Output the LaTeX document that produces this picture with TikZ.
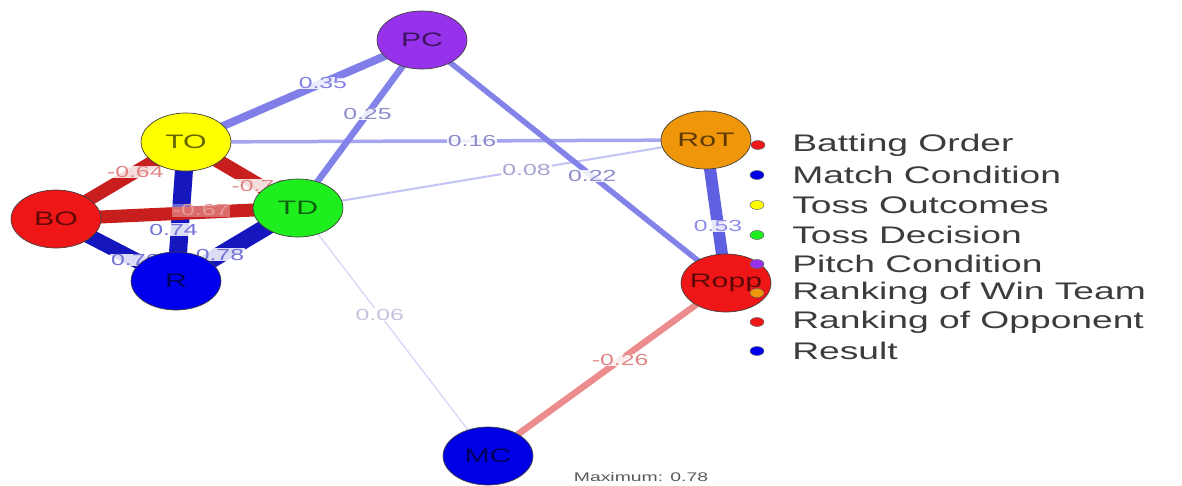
\documentclass[tikz,border=0pt]{standalone}
\usepackage{fontspec}
\setmainfont{Liberation Sans}
\usetikzlibrary{shapes.geometric, positioning, backgrounds}

\definecolor{pcfill}{RGB}{150,50,235}
\definecolor{tofill}{RGB}{255,255,0}
\definecolor{bofill}{RGB}{238,22,22}
\definecolor{tdfill}{RGB}{30,238,30}
\definecolor{rfill}{RGB}{0,0,238}
\definecolor{rotfill}{RGB}{240,150,10}
\definecolor{roppfill}{RGB}{238,22,22}
\definecolor{mcfill}{RGB}{0,0,230}
\definecolor{posstrong}{RGB}{22,22,190}
\definecolor{posmid}{RGB}{95,95,225}
\definecolor{posweak}{RGB}{130,130,232}
\definecolor{poslight}{RGB}{165,165,240}
\definecolor{posfaint}{RGB}{195,195,245}
\definecolor{posghost}{RGB}{218,218,248}
\definecolor{negstrong}{RGB}{200,30,30}
\definecolor{negweak}{RGB}{236,140,140}
\definecolor{legtext}{RGB}{60,60,60}

\tikzset{var/.style={circle, minimum size=58pt, inner sep=0pt, draw=black!75, line width=0.7pt, xscale=1.55, text=black, text opacity=0.6, font=\fontsize{19.5}{21}\selectfont}}
\tikzset{link/.style={line cap=butt}}
\tikzset{wlab/.style={fill=white, fill opacity=0.85, text opacity=1, inner sep=0.6pt, xscale=1.55, font=\fontsize{16}{18}\selectfont}}
\tikzset{legdot/.style={circle, minimum size=9pt, inner sep=0pt, draw=black!60, line width=0.5pt, xscale=1.55}}
\tikzset{legitem/.style={anchor=west, inner sep=0pt, xscale=1.55, text=legtext, font=\fontsize{24}{26}\selectfont}}

\begin{document}
\begin{tikzpicture}[x=1pt, y=-1pt]
\useasboundingbox (0,0) rectangle (1182,485);

% Variables
\node (PC) [var, fill=pcfill] at (422,40) {PC};
\node (TO) [var, fill=tofill] at (186,142) {TO};
\node (BO) [var, fill=bofill] at (56,219) {BO};
\node (TD) [var, fill=tdfill] at (298,208) {TD};
\node (R) [var, fill=rfill] at (176,281) {R};
\node (RoT) [var, fill=rotfill] at (706,140) {RoT};
\node (Ropp) [var, fill=roppfill] at (726,283) {Ropp};
\node (MC) [var, fill=mcfill] at (488,456) {MC};

% Correlation edges
\begin{pgfonlayer}{background}
\draw [link, line width=1.5pt, draw=posghost] (TD.center) -- (MC.center) node[wlab, text=posghost!90!black, pos=0.43] {0.06};
\draw [link, line width=2pt, draw=posfaint] (TD.center) -- (RoT.center) node[wlab, text=posfaint!85!black, pos=0.56] {0.08};
\draw [link, line width=3.5pt, draw=poslight] (TO.center) -- (RoT.center) node[wlab, text=poslight!85!black, pos=0.55] {0.16};
\draw [link, line width=5.5pt, draw=posweak] (PC.center) -- (Ropp.center) node[wlab, text=poslight!85!black, pos=0.56] {0.22};
\draw [link, line width=6.5pt, draw=posweak] (TD.center) -- (PC.center) node[wlab, text=poslight!85!black, pos=0.56] {0.25};
\draw [link, line width=6.5pt, draw=negweak] (Ropp.center) -- (MC.center) node[wlab, text=negweak!95!black, pos=0.445] {-0.26};
\draw [link, line width=8pt, draw=posweak!90!posmid] (TO.center) -- (PC.center) node[wlab, text=posweak, pos=0.58] {0.35};
\draw [link, line width=12pt, draw=posmid] (RoT.center) -- (Ropp.center) node[wlab, text=posmid!70!white, pos=0.6] {0.53};
\draw [link, line width=18pt, draw=posstrong] (TO.center) -- (R.center) node[wlab, text=posstrong!60!white, pos=0.63, xshift=-4pt] {0.74};
\draw [link, line width=13pt, draw=negstrong] (BO.center) -- (TO.center) node[wlab, text=negstrong!55!white, pos=0.61] {-0.64};
\draw [link, line width=13pt, draw=negstrong] (BO.center) -- (TD.center) node[wlab, text=negstrong!45!white, fill opacity=0.35, pos=0.6, yshift=2pt] {-0.67};
\draw [link, line width=14pt, draw=negstrong] (TO.center) -- (TD.center) node[wlab, text=negstrong!55!white, pos=0.66] {-0.71};
\draw [link, line width=15pt, draw=posstrong] (BO.center) -- (R.center) node[wlab, text=posstrong!60!white, pos=0.66] {0.76};
\draw [link, line width=17pt, draw=posstrong] (TD.center) -- (R.center) node[wlab, text=posstrong!60!white, pos=0.64] {0.78};
\end{pgfonlayer}

% Legend
\node (dBO) [legdot, fill=bofill] at (758,145) {};
\node (dMC) [legdot, fill=mcfill] at (757,175) {};
\node (dTO) [legdot, fill=tofill] at (757,205) {};
\node (dTD) [legdot, fill=tdfill] at (757,235) {};
\node (dPC) [legdot, fill=pcfill] at (757,264) {};
\node (dRoT) [legdot, fill=rotfill] at (757,293) {};
\node (dRopp) [legdot, fill=roppfill] at (757,322) {};
\node (dR) [legdot, fill=rfill] at (757,351) {};
\node (lBO) [legitem] at (792,145) {Batting Order};
\node (lMC) [legitem] at (792,175) {Match Condition};
\node (lTO) [legitem] at (792,205) {Toss Outcomes};
\node (lTD) [legitem] at (792,235) {Toss Decision};
\node (lPC) [legitem] at (792,264) {Pitch Condition};
\node (lRoT) [legitem] at (792,293) {Ranking of Win Team};
\node (lRopp) [legitem] at (792,322) {Ranking of Opponent};
\node (lR) [legitem] at (792,351) {Result};

\node (maxw) [xscale=1.55, text=black!65, font=\fontsize{12.5}{14}\selectfont] at (641,477) {Maximum: 0.78};

\end{tikzpicture}
\end{document}
